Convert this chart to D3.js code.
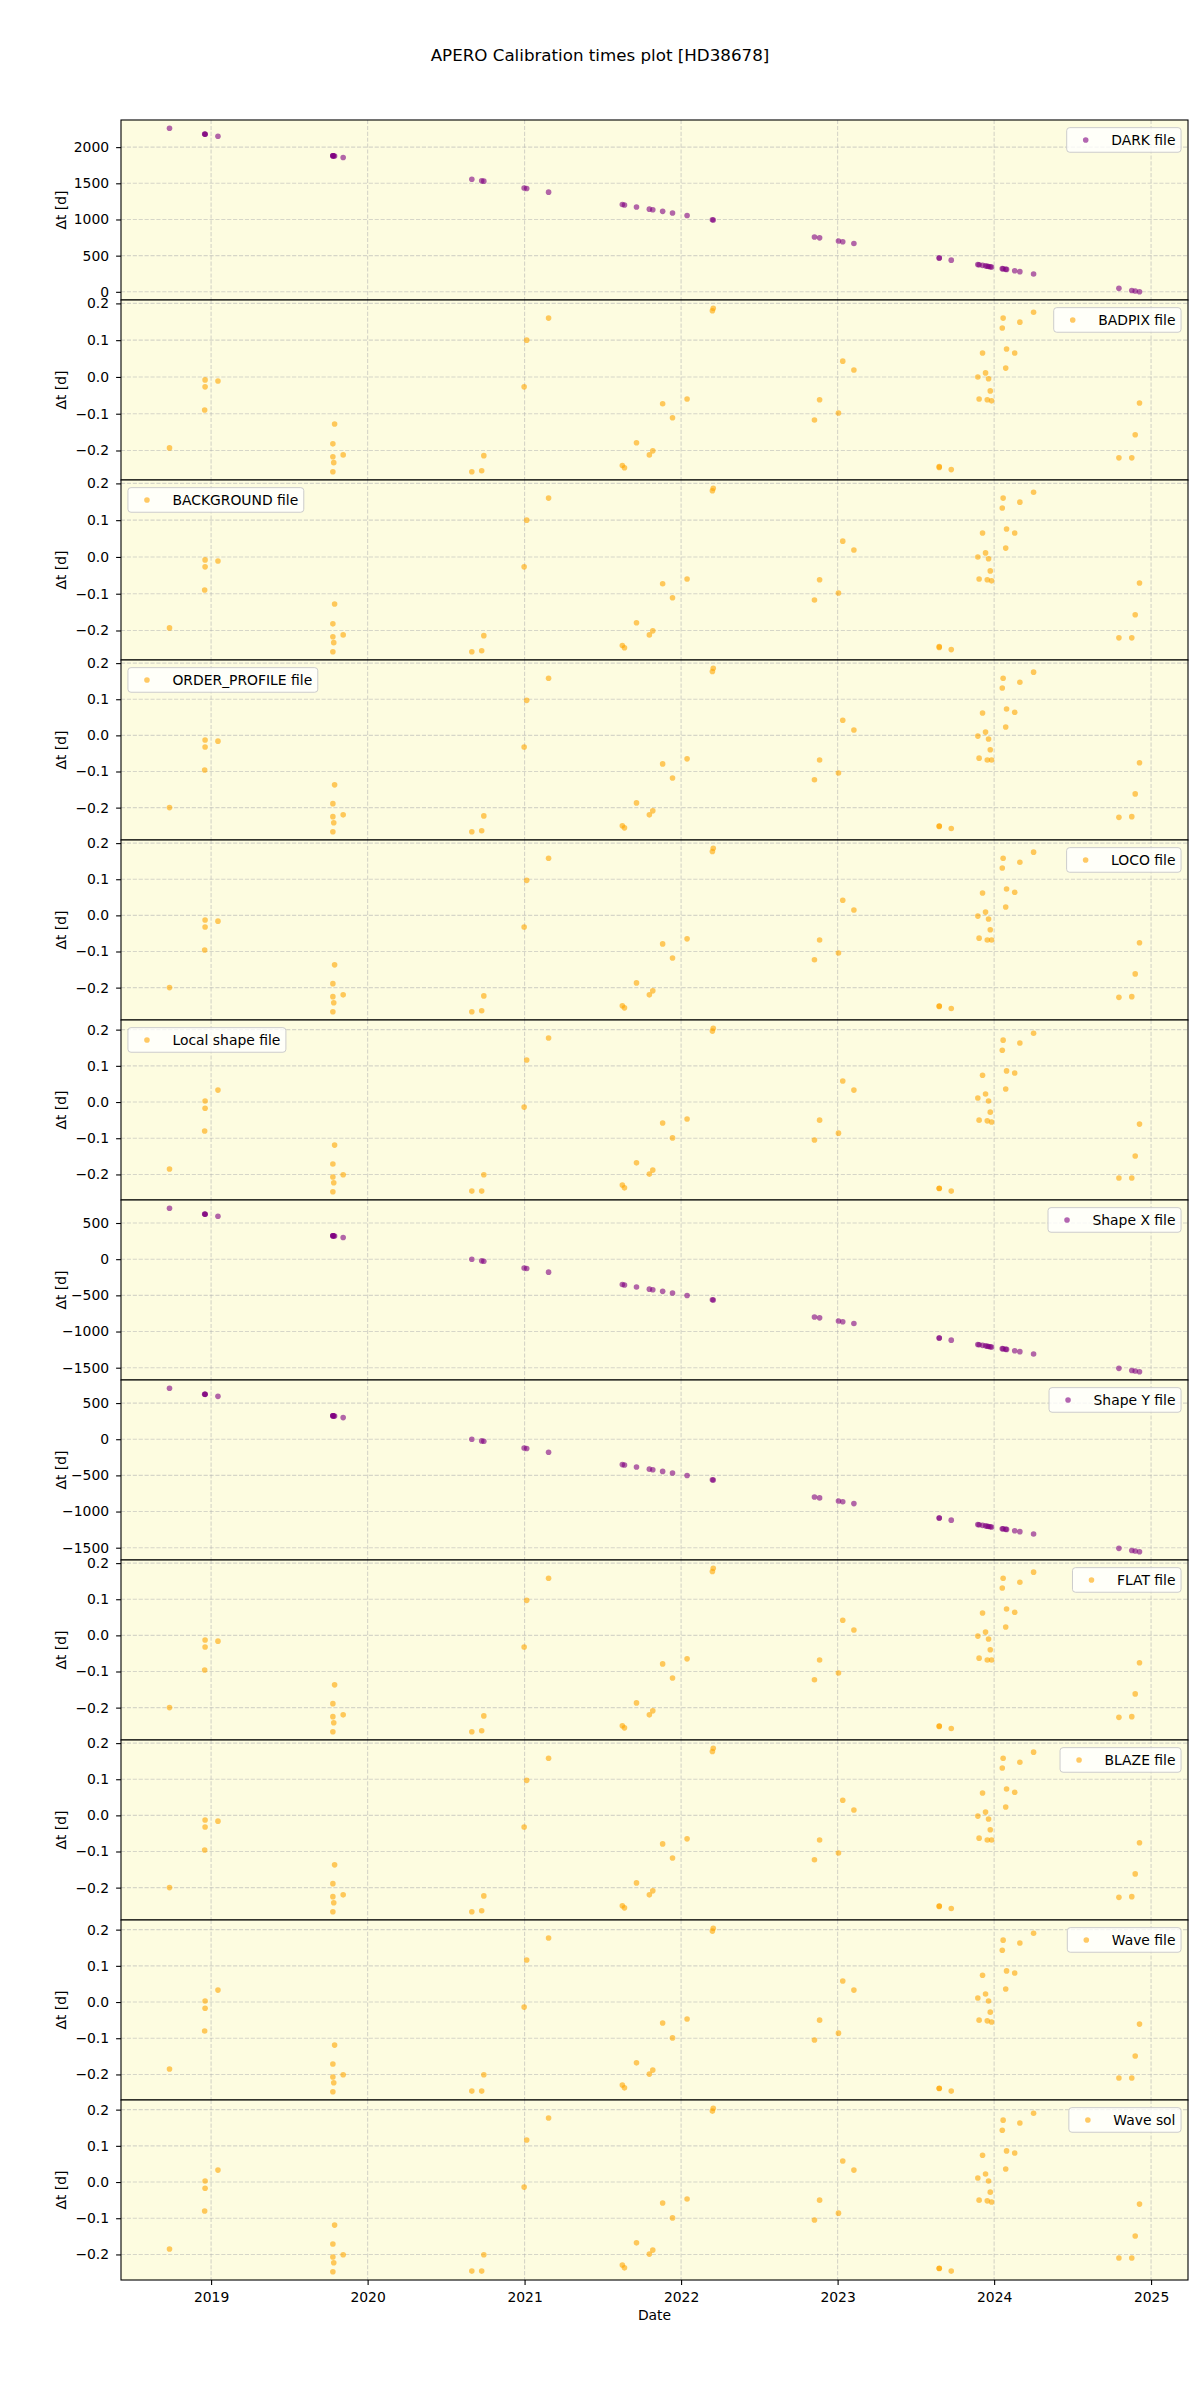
<!DOCTYPE html>
<html><head><meta charset="utf-8">
<script src="https://cdn.jsdelivr.net/npm/d3@7"></script>
<style>body{margin:0;background:#fff} svg text{font-family:"DejaVu Sans",sans-serif}</style>
</head><body><svg id="c" width="1200" height="2400"></svg>
<script>
// ---------- DATA ----------
const obsDates = ["2018-09-26","2018-12-17","2018-12-18","2018-12-18","2019-01-17","2019-10-12","2019-10-12","2019-10-14","2019-10-12","2019-10-16","2019-11-05","2020-08-31","2020-09-23","2020-09-28","2020-12-31","2021-01-06","2021-02-26","2021-08-17","2021-08-22","2021-09-19","2021-10-19","2021-10-27","2021-11-19","2021-12-12","2022-01-15","2022-03-15","2022-03-17","2022-11-08","2022-11-20","2023-01-03","2023-01-13","2023-02-08","2023-08-26","2023-08-26","2023-09-23","2023-11-24","2023-11-27","2023-12-05","2023-12-12","2023-12-16","2023-12-19","2023-12-23","2023-12-26","2024-01-20","2024-01-22","2024-01-28","2024-01-30","2024-02-18","2024-03-01","2024-04-02","2024-10-18","2024-11-17","2024-11-25","2024-12-05"];

const darkDt = [2262,2180,2178,2178,2150,1881,1881,1878,1881,1877,1856,1557,1534,1530,1436,1429,1378,1206,1201,1172,1143,1135,1112,1089,1056,996,993,758,746,702,693,667,467,467,438,377,374,366,359,354,351,347,344,320,318,312,310,291,279,247,48,19,11,0];

const shapeXDt = [705,623,621,621,593,324,324,321,324,320,299,0,-23,-28,-121,-128,-179,-351,-356,-384,-414,-422,-445,-468,-501,-561,-564,-799,-811,-855,-864,-890,-1090,-1090,-1119,-1180,-1183,-1191,-1198,-1203,-1206,-1210,-1213,-1237,-1239,-1245,-1247,-1266,-1278,-1310,-1509,-1538,-1546,-1557];

const shapeYDt = [706,623,621,621,593,324,324,321,324,320,299,0,-23,-28,-121,-128,-179,-351,-356,-384,-414,-422,-445,-468,-501,-561,-564,-799,-811,-855,-864,-890,-1090,-1090,-1119,-1180,-1183,-1191,-1198,-1203,-1206,-1210,-1213,-1237,-1239,-1245,-1247,-1266,-1278,-1310,-1509,-1538,-1546,-1557];

const badpixDt = [-0.193,-0.090,-0.008,-0.027,-0.011,-0.182,-0.217,-0.233,-0.258,-0.128,-0.212,-0.258,-0.255,-0.214,-0.027,0.100,0.160,-0.241,-0.247,-0.179,-0.212,-0.201,-0.073,-0.111,-0.060,0.180,0.187,-0.117,-0.062,-0.098,0.043,0.019,-0.244,-0.246,-0.252,0.000,-0.060,0.065,0.011,-0.062,-0.005,-0.038,-0.065,0.133,0.160,0.024,0.076,0.065,0.149,0.176,-0.220,-0.220,-0.157,-0.071];

const backgroundDt = [-0.193,-0.090,-0.008,-0.027,-0.011,-0.182,-0.217,-0.233,-0.258,-0.128,-0.212,-0.258,-0.255,-0.214,-0.027,0.100,0.160,-0.241,-0.247,-0.179,-0.212,-0.201,-0.073,-0.111,-0.060,0.180,0.187,-0.117,-0.062,-0.098,0.043,0.019,-0.244,-0.246,-0.252,0.000,-0.060,0.065,0.011,-0.062,-0.005,-0.038,-0.065,0.133,0.160,0.024,0.076,0.065,0.149,0.176,-0.220,-0.220,-0.157,-0.071];

const orderProfileDt = [-0.200,-0.096,-0.013,-0.032,-0.016,-0.189,-0.225,-0.242,-0.267,-0.137,-0.220,-0.267,-0.264,-0.223,-0.032,0.097,0.158,-0.250,-0.256,-0.187,-0.220,-0.209,-0.079,-0.118,-0.065,0.177,0.186,-0.123,-0.068,-0.104,0.042,0.015,-0.251,-0.252,-0.258,-0.002,-0.063,0.062,0.009,-0.068,-0.010,-0.040,-0.068,0.131,0.158,0.023,0.073,0.064,0.147,0.175,-0.227,-0.225,-0.162,-0.076];

const locoDt = orderProfileDt.slice();
const flatDt = orderProfileDt.slice();
const blazeDt = orderProfileDt.slice();

const localShapeDt = [-0.185,-0.080,0.003,-0.017,0.033,-0.171,-0.207,-0.223,-0.248,-0.119,-0.201,-0.246,-0.246,-0.201,-0.014,0.116,0.177,-0.229,-0.237,-0.168,-0.199,-0.188,-0.058,-0.099,-0.047,0.196,0.204,-0.105,-0.050,-0.086,0.058,0.033,-0.238,-0.239,-0.246,0.011,-0.050,0.074,0.022,-0.052,0.003,-0.028,-0.055,0.143,0.171,0.036,0.086,0.080,0.163,0.190,-0.210,-0.210,-0.149,-0.061];

const waveFileDt = localShapeDt.slice();
const waveSolDt = localShapeDt.slice();

const panelLabels = ["DARK file","BADPIX file","BACKGROUND file","ORDER_PROFILE file","LOCO file","Local shape file","Shape X file","Shape Y file","FLAT file","BLAZE file","Wave file","Wave sol"];
const panelValues = [darkDt,badpixDt,backgroundDt,orderProfileDt,locoDt,localShapeDt,shapeXDt,shapeYDt,flatDt,blazeDt,waveFileDt,waveSolDt];
const panelKinds = ["purple","orange","orange","orange","orange","orange","purple","purple","orange","orange","orange","orange"];
const legendSide = ["right","right","left","left","right","left","right","right","right","right","right","right"];

const titleText = "APERO Calibration times plot [HD38678]";
const yLabelText = "Δt [d]";
const xLabelText = "Date";

// ---------- LAYOUT / STYLE ----------
const X0 = 121, X1 = 1188, TOP = 120, PH = 180;
const FS = 13.9;
const BG = "#fdfce0";
const COLORS = {purple: "#800080", orange: "#FFA500"};
const svg = d3.select("#c");

const parse = d3.utcParse("%Y-%m-%d");
const dates = obsDates.map(parse);
const ext = d3.extent(dates);
const xpad = (ext[1] - ext[0]) * 0.05;
const x = d3.scaleUtc().domain([new Date(+ext[0] - xpad), new Date(+ext[1] + xpad)]).range([X0, X1]);
const xTicks = x.ticks(d3.utcYear.every(1));

svg.append("text").attr("x", 600).attr("y", 61).attr("text-anchor", "middle")
  .attr("font-size", 16.7).attr("fill", "#000").text(titleText);

panelValues.forEach((vals, i) => {
  const top = TOP + i * PH;
  const [mn, mx] = d3.extent(vals);
  const sp = mx - mn;
  const y = d3.scaleLinear().domain([mn - 0.05 * sp, mx + 0.05 * sp]).range([top + PH, top]);
  const yt = y.ticks(5);
  const fmt = panelKinds[i] === "purple" ? d3.format("d") : d3.format(".1f");
  const g = svg.append("g");

  g.append("rect").attr("x", X0).attr("y", top).attr("width", X1 - X0).attr("height", PH).attr("fill", BG);

  g.append("g").selectAll("line").data(yt).join("line")
    .attr("x1", X0).attr("x2", X1).attr("y1", d => y(d)).attr("y2", d => y(d))
    .attr("stroke", "#b0b0b0").attr("stroke-opacity", 0.5).attr("stroke-width", 1.1).attr("stroke-dasharray", "4.1,1.8");
  g.append("g").selectAll("line").data(xTicks).join("line")
    .attr("x1", d => x(d)).attr("x2", d => x(d)).attr("y1", top).attr("y2", top + PH)
    .attr("stroke", "#b0b0b0").attr("stroke-opacity", 0.5).attr("stroke-width", 1.1).attr("stroke-dasharray", "4.1,1.8");

  const axg = g.append("g").attr("transform", `translate(${X0},0)`)
    .call(d3.axisLeft(y).tickValues(yt).tickFormat(fmt).tickSize(4.9).tickPadding(7));
  axg.select(".domain").remove();
  axg.attr("font-size", FS).attr("font-family", "DejaVu Sans");
  axg.selectAll("line").attr("stroke", "#000").attr("stroke-width", 1.1);
  axg.selectAll("text").attr("fill", "#000");

  g.append("g").selectAll("circle").data(vals).join("circle")
    .attr("cx", (d, j) => x(dates[j])).attr("cy", d => y(d)).attr("r", 2.8)
    .attr("fill", COLORS[panelKinds[i]]).attr("fill-opacity", 0.6);

  g.append("text").attr("transform", `translate(61,${top + PH / 2}) rotate(-90)`)
    .attr("text-anchor", "middle").attr("dy", "0.35em").attr("font-size", FS).attr("fill", "#000").text(yLabelText);

  // legend
  const lg = g.append("g");
  const txt = lg.append("text").attr("font-size", FS).attr("fill", "#000").text(panelLabels[i]);
  const tw = txt.node().getComputedTextLength();
  const bw = tw + 3.6 * FS, bh = 24.6;
  const bx = legendSide[i] === "right" ? X1 - 0.5 * FS - bw : X0 + 0.5 * FS;
  const by = top + 0.55 * FS;
  lg.insert("rect", "text").attr("x", bx).attr("y", by).attr("width", bw).attr("height", bh)
    .attr("rx", 3).attr("fill", "#fff").attr("fill-opacity", 0.8).attr("stroke", "#cccccc").attr("stroke-width", 1);
  lg.append("circle").attr("cx", bx + 19).attr("cy", by + bh / 2).attr("r", 2.8)
    .attr("fill", COLORS[panelKinds[i]]).attr("fill-opacity", 0.6);
  txt.attr("x", bx + 3.2 * FS).attr("y", by + bh / 2).attr("dominant-baseline", "central");

  g.append("rect").attr("x", X0).attr("y", top).attr("width", X1 - X0).attr("height", PH)
    .attr("fill", "none").attr("stroke", "#000").attr("stroke-width", 1.1);
});

const bottom = TOP + panelValues.length * PH;
const xg = svg.append("g").attr("transform", `translate(0,${bottom})`)
  .call(d3.axisBottom(x).tickValues(xTicks).tickFormat(d3.utcFormat("%Y")).tickSize(4.9).tickPadding(7));
xg.select(".domain").remove();
xg.attr("font-size", FS).attr("font-family", "DejaVu Sans");
xg.selectAll("line").attr("stroke", "#000").attr("stroke-width", 1.1);
xg.selectAll("text").attr("fill", "#000");

svg.append("text").attr("x", (X0 + X1) / 2).attr("y", 2320).attr("text-anchor", "middle")
  .attr("font-size", FS).attr("fill", "#000").text(xLabelText);
</script></body></html>
